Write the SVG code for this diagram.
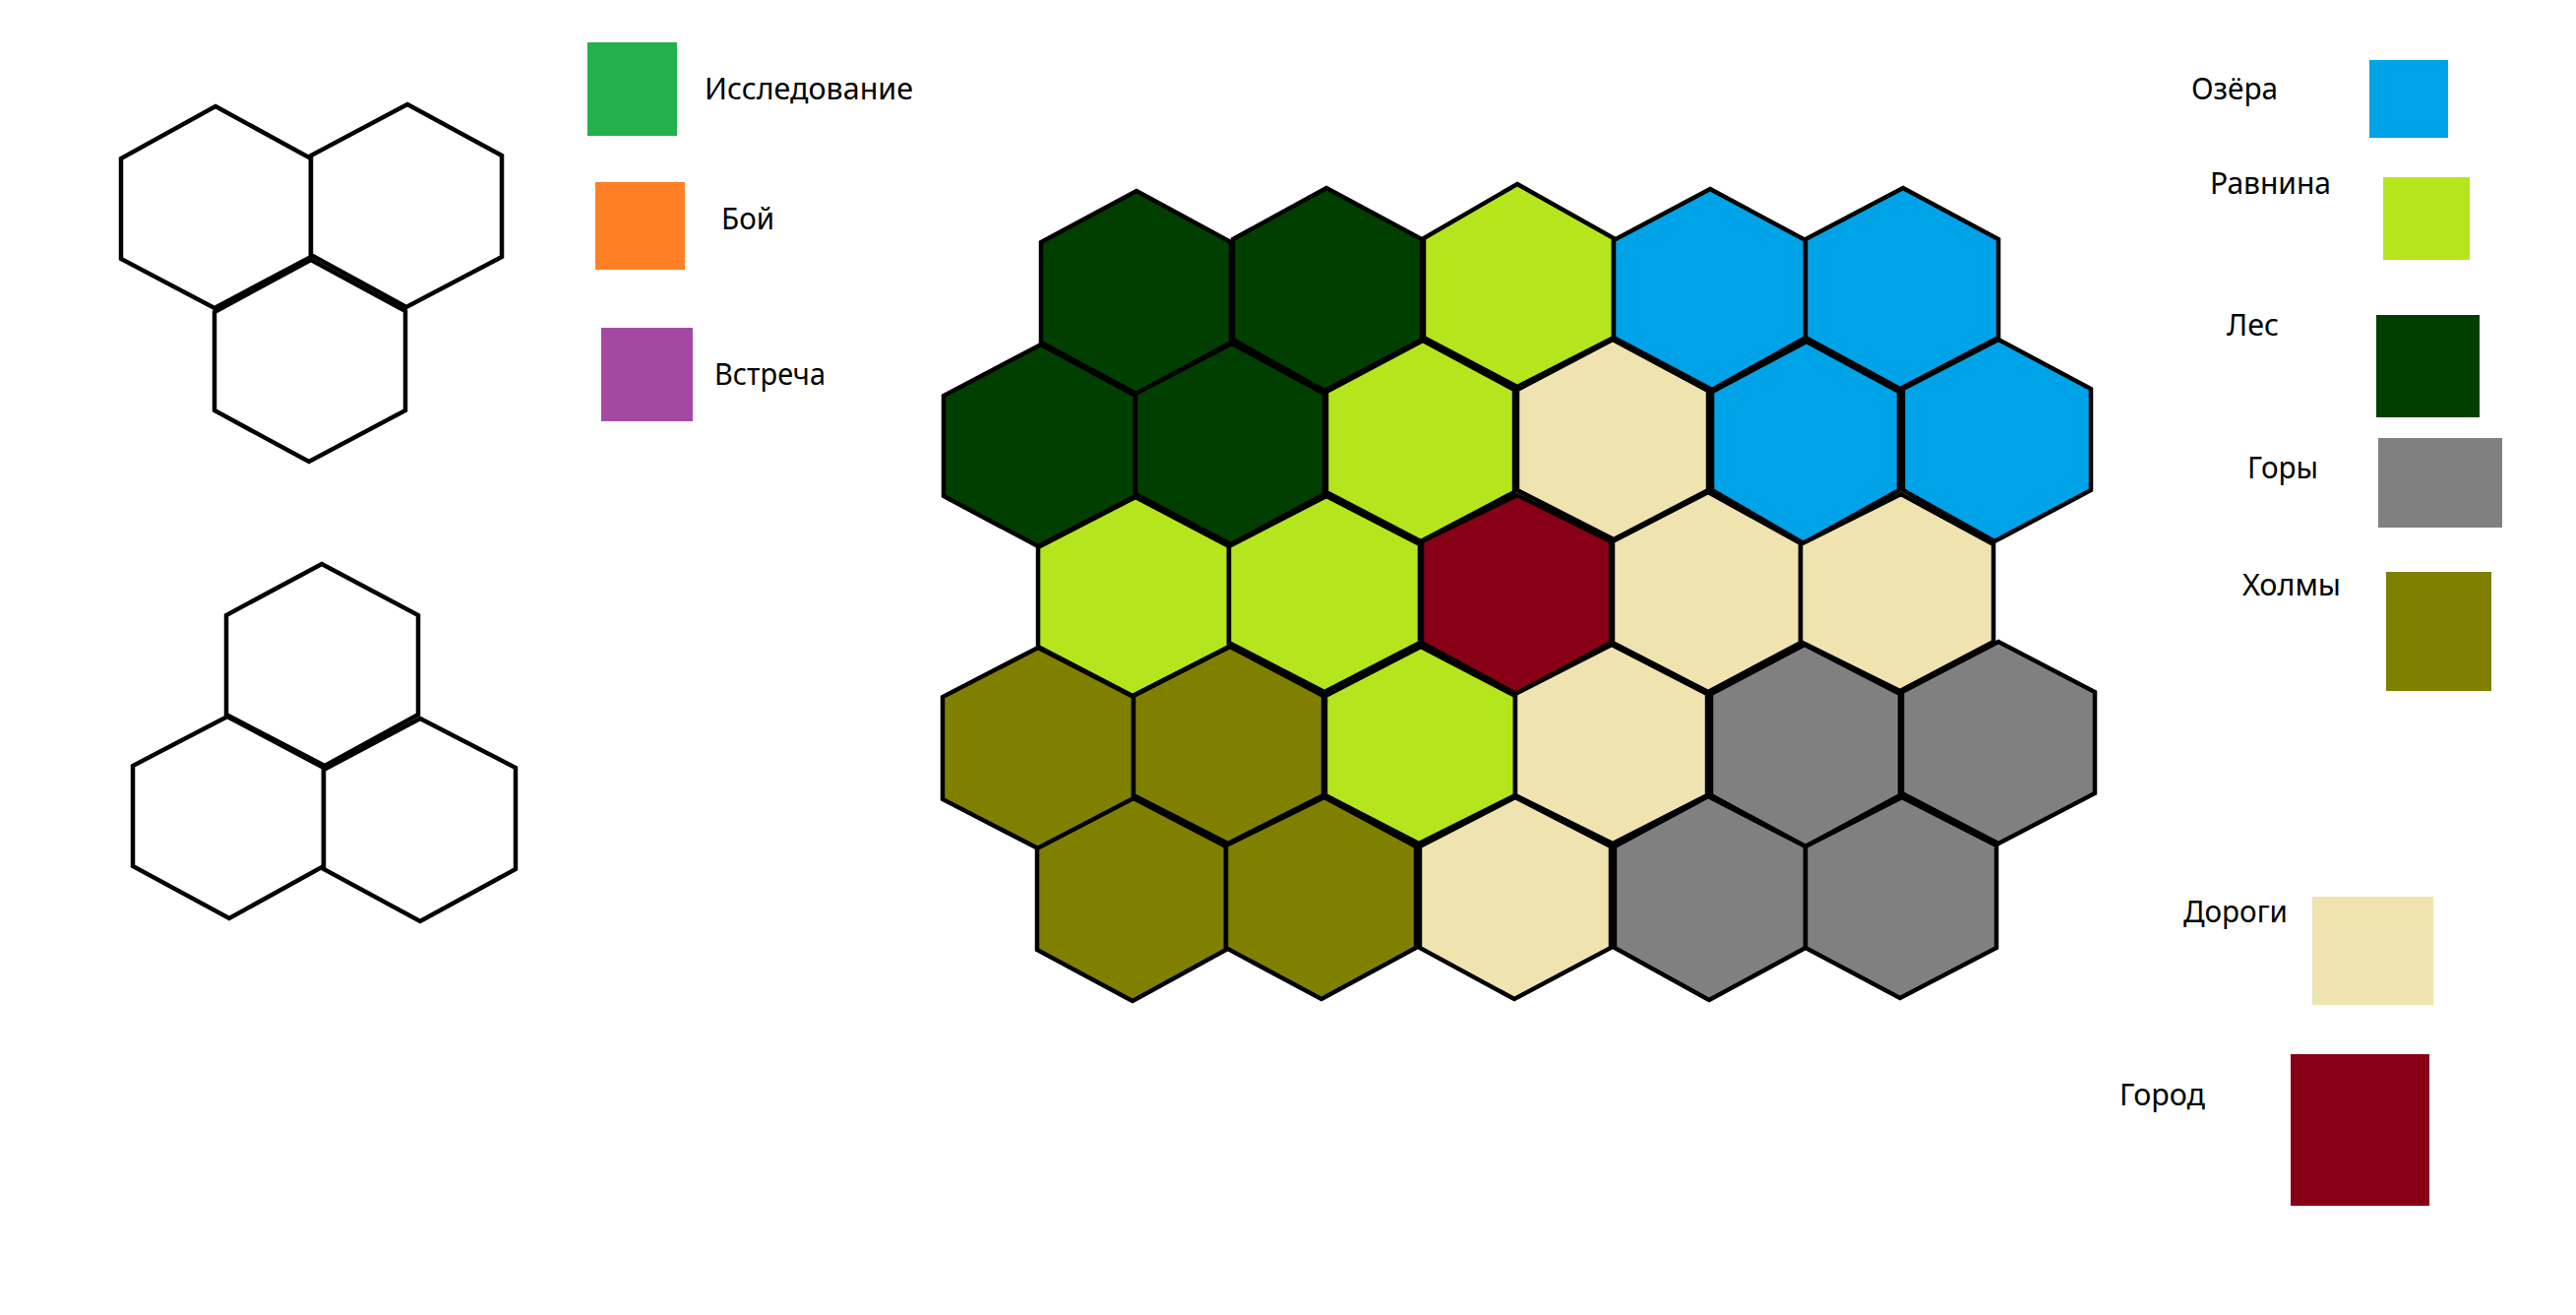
<svg xmlns="http://www.w3.org/2000/svg" width="2618" height="1336" viewBox="0 0 2618 1336">
<style>
.h{stroke:#000;stroke-width:4.5;stroke-linejoin:miter}
.w{fill:#fff}.f{fill:#003f00}.p{fill:#b5e61d}.l{fill:#00a2e8}.r{fill:#efe4b0}.c{fill:#880015}.o{fill:#808000}.g{fill:#808080}
text{font-family:"Noto Sans","Open Sans","Liberation Sans",sans-serif;font-size:30px;fill:#000}
</style>
<rect width="2618" height="1336" fill="#fff"/>
<g id="sample-top">
<polygon id="st1" class="h w" points="219,108 316,161 316,261 218,313 123,263 123,161"/>
<polygon id="st2" class="h w" points="414,106 510,158 510,261 413,312 316,259 316,158"/>
<polygon id="st3" class="h w" points="316,264 412,316 412,417 314,469 218,417 218,317"/>
</g>
<g id="sample-bottom">
<polygon id="sb1" class="h w" points="327,573 425,625 425,726 330,778 230,726 230,625"/>
<polygon id="sb2" class="h w" points="231,728 329,780 329,880 233,933 135,880 135,778"/>
<polygon id="sb3" class="h w" points="427,730 524,780 524,883 427,936 329,883 329,782"/>
</g>
<g id="board">
<polygon id="r1c1" class="h f" points="1155,194 1251,246 1251,348 1155,400 1058,348 1058,246"/>
<polygon id="r1c2" class="h f" points="1348,191 1445,243 1445,345 1346,397 1253,345 1253,243"/>
<polygon id="r1c3" class="h p" points="1542,187 1640,242 1640,343 1542,393 1447,343 1447,242"/>
<polygon id="r1c4" class="h l" points="1738,192 1835,244 1835,343 1740,396 1640,343 1640,244"/>
<polygon id="r1c5" class="h l" points="1934,191 2031,243 2031,343 1931,395 1835,343 1835,243"/>
<polygon id="r2c1" class="h f" points="1058,350 1154,402 1154,504 1055,555 959,504 959,402"/>
<polygon id="r2c2" class="h f" points="1252,349 1346,400 1346,502 1251,553 1154,502 1154,400"/>
<polygon id="r2c3" class="h p" points="1446,346 1539,396 1539,500 1444,550 1348,500 1348,398"/>
<polygon id="r2c4" class="h r" points="1639,345 1736,397 1736,498 1640,548 1542,498 1542,396"/>
<polygon id="r2c5" class="h l" points="1836,347 1930,398 1930,498 1833,552 1740,498 1740,398"/>
<polygon id="r2c6" class="h l" points="2031,345 2125,395 2125,498 2027,550 1934,498 1934,395"/>
<polygon id="r3c1" class="h p" points="1154,505 1249,555 1249,657 1151,707 1055,657 1055,556"/>
<polygon id="r3c2" class="h p" points="1348,504 1443,553 1443,653 1346,703 1249,653 1249,555"/>
<polygon id="r3c3" class="h c" points="1542,503 1637,550 1637,653 1541,705 1445,653 1445,550"/>
<polygon id="r3c4" class="h r" points="1736,500 1830,552 1830,653 1736,703 1639,653 1639,550"/>
<polygon id="r3c5" class="h r" points="1932,502 2026,553 2026,652 1931,702 1830,652 1830,553"/>
<polygon id="r4c1" class="h o" points="1055,658 1152,708 1152,812 1055,862 958,812 958,708"/>
<polygon id="r4c2" class="h o" points="1250,657 1345,707 1345,808 1248,857 1152,808 1152,707"/>
<polygon id="r4c3" class="h p" points="1444,657 1540,707 1540,808 1442,857 1347,808 1347,707"/>
<polygon id="r4c4" class="h r" points="1638,655 1735,705 1735,808 1639,857 1540,808 1540,705"/>
<polygon id="r4c5" class="h g" points="1834,655 1931,705 1931,808 1835,860 1739,808 1739,705"/>
<polygon id="r4c6" class="h g" points="2031,652 2129,703 2129,806 2031,857 1933,806 1933,703"/>
<polygon id="r5c1" class="h o" points="1152,811 1246,860 1246,965 1151,1017 1054,965 1054,862"/>
<polygon id="r5c2" class="h o" points="1346,810 1439,860 1439,963 1343,1015 1246,963 1246,859"/>
<polygon id="r5c3" class="h r" points="1540,810 1637,860 1637,963 1539,1015 1443,963 1443,860"/>
<polygon id="r5c4" class="h g" points="1736,809 1835,860 1835,963 1737,1016 1641,963 1641,860"/>
<polygon id="r5c5" class="h g" points="1933,810 2029,859 2029,963 1931,1014 1835,963 1835,860"/>
</g>
<g id="connectors"/>
<g id="legend-explore"><rect x="597" y="43" width="91" height="95" fill="#22b14c"/><text x="716" y="101" textLength="212" lengthAdjust="spacingAndGlyphs">Исследование</text></g>
<g id="legend-battle"><rect x="605" y="185" width="91" height="89" fill="#ff7f27"/><text x="733" y="233" textLength="54" lengthAdjust="spacingAndGlyphs">Бой</text></g>
<g id="legend-meeting"><rect x="611" y="333" width="93" height="95" fill="#a349a4"/><text x="726" y="391" textLength="113" lengthAdjust="spacingAndGlyphs">Встреча</text></g>
<g id="legend-lakes"><rect x="2408" y="61" width="80" height="79" class="l"/><text x="2227" y="101" textLength="88" lengthAdjust="spacingAndGlyphs">Озёра</text></g>
<g id="legend-plains"><rect x="2422" y="180" width="88" height="84" class="p"/><text x="2246" y="197" textLength="123" lengthAdjust="spacingAndGlyphs">Равнина</text></g>
<g id="legend-forest"><rect x="2415" y="320" width="105" height="104" class="f"/><text x="2263" y="341" textLength="53" lengthAdjust="spacingAndGlyphs">Лес</text></g>
<g id="legend-mountains"><rect x="2417" y="445" width="126" height="91" class="g"/><text x="2284" y="486" textLength="72" lengthAdjust="spacingAndGlyphs">Горы</text></g>
<g id="legend-hills"><rect x="2425" y="581" width="107" height="121" class="o"/><text x="2279" y="605" textLength="100" lengthAdjust="spacingAndGlyphs">Холмы</text></g>
<g id="legend-roads"><rect x="2350" y="911" width="123" height="110" class="r"/><text x="2219" y="937" textLength="106" lengthAdjust="spacingAndGlyphs">Дороги</text></g>
<g id="legend-city"><rect x="2328" y="1071" width="141" height="154" class="c"/><text x="2154" y="1123" textLength="87" lengthAdjust="spacingAndGlyphs">Город</text></g>
</svg>
